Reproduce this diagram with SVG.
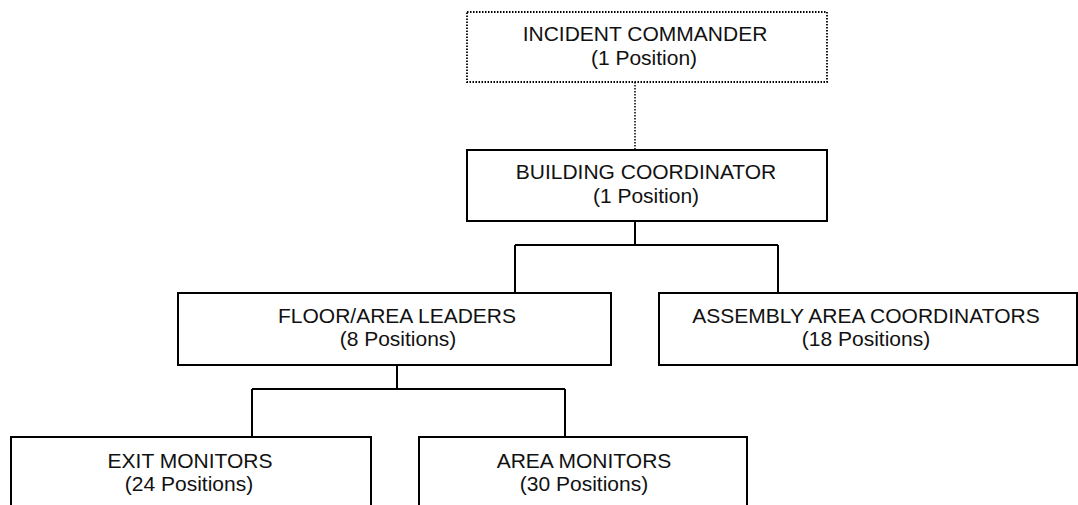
<svg xmlns="http://www.w3.org/2000/svg" width="1078" height="505" viewBox="0 0 1078 505">
<style>
.box{fill:#fff;stroke:#000;stroke-width:2}
.dot{fill:#fff;stroke:#000;stroke-width:1.8;stroke-dasharray:1.5 1.5}
.ln{fill:none;stroke:#000;stroke-width:2}
.dl{fill:none;stroke:#000;stroke-width:1.5;stroke-dasharray:1.5 1.5}
text{font-family:"Liberation Sans",Arial,sans-serif;font-size:21px;fill:#111;text-anchor:middle}
</style>
<rect width="1078" height="505" fill="#fff"/>
<g id="connectors">
<path class="dl" d="M635 82V150"/>
<path class="ln" d="M635 221V245M515 245H778M515 245V293M778 245V293"/>
<path class="ln" d="M397 365V389M252 389H565M252 389V437M565 389V437"/>
</g>
<g id="incident-commander">
<rect class="dot" x="467" y="12" width="360" height="70"/>
<text x="645" y="41">INCIDENT COMMANDER</text>
<text x="644" y="65">(1 Position)</text>
</g>
<g id="building-coordinator">
<rect class="box" x="467" y="150" width="360" height="71"/>
<text x="646" y="179">BUILDING COORDINATOR</text>
<text x="646" y="203">(1 Position)</text>
</g>
<g id="floor-area-leaders">
<rect class="box" x="178" y="293" width="433" height="72"/>
<text x="397" y="323">FLOOR/AREA LEADERS</text>
<text x="398" y="346">(8 Positions)</text>
</g>
<g id="assembly-area-coordinators">
<rect class="box" x="659" y="293" width="418" height="72"/>
<text x="866" y="323">ASSEMBLY AREA COORDINATORS</text>
<text x="866" y="346">(18 Positions)</text>
</g>
<g id="exit-monitors">
<rect class="box" x="11" y="437" width="360" height="80"/>
<text x="190" y="468">EXIT MONITORS</text>
<text x="189" y="491">(24 Positions)</text>
</g>
<g id="area-monitors">
<rect class="box" x="419" y="437" width="328" height="80"/>
<text x="584" y="468">AREA MONITORS</text>
<text x="584" y="491">(30 Positions)</text>
</g>
</svg>
